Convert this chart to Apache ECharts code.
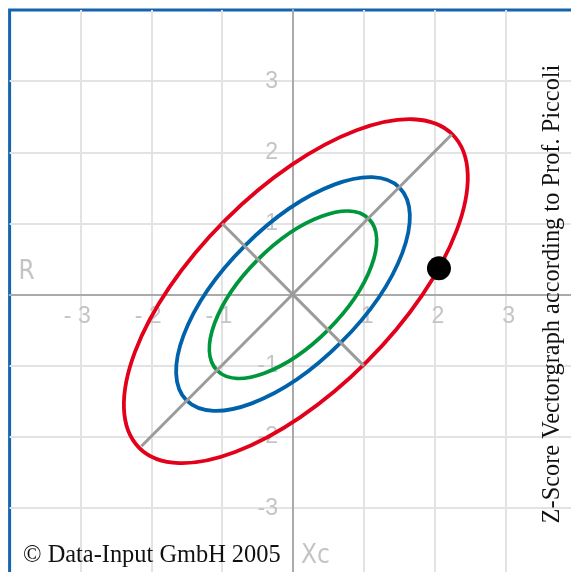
<!DOCTYPE html>
<html>
<head>
<meta charset="utf-8">
<script src="https://cdn.jsdelivr.net/npm/echarts@6/dist/echarts.min.js"></script>
<style>
html,body{margin:0;padding:0;background:#ffffff;}
#chart{width:571px;height:572px;}
</style>
</head>
<body>
<div id="chart"></div>
<script>
// ---- data ----
const xTickValues = [-3, -2, -1, 1, 2, 3];
const xTickLabels = ['- 3 ', '- 2 ', '- 1 ', ' 1', ' 2', ' 3'];
const yTickValues = [-3, -2, -1, 1, 2, 3];
const yTickLabels = ['-3', '-2', '-1', '1', '2', '3'];
const xAxisName = 'R';
const yAxisName = 'Xc';
const titleText = 'Z-Score Vectorgraph according to Prof. Piccoli';
const copyrightText = '\u00A9 Data-Input GmbH 2005';

// tolerance ellipses (50 %, 75 %, 95 %), tilted 45 deg
const ellipseLevels = ['50%', '75%', '95%'];
const ellipseCenterX = [0, 0, 0.04];
const ellipseCenterY = [0, 0.01, 0.05];
const ellipseSemiMajor = [1.51, 2.12, 3.12];
const ellipseSemiMinor = [0.70, 0.96, 1.41];
const ellipseTiltDeg = [45, 45, 45];

// principal axes of the outer ellipse
const majorAxisLine = [[-2.14, -2.13], [2.24, 2.25]];
const minorAxisLine = [[-1, 1], [1, -1]];

// measured vector point
const measuredPoint = [[2.06, 0.37]];

// ---- styles ----
const ellipseColors = ['#00963c', '#0062aa', '#e2001a'];
const labelGray = '#c4c4c4';

const ellipseData = ellipseLevels.map((n, i) => ({
  name: n,
  value: [ellipseCenterX[i], ellipseCenterY[i], ellipseSemiMajor[i], ellipseSemiMinor[i], ellipseTiltDeg[i]]
}));

const W = 571, H = 572;
const gridLeft = 9.6, gridTop = 10, gridRight = -5.4, gridBottom = -7.4;
const plotW = W - gridLeft - gridRight, plotH = H - gridTop - gridBottom;
// shift the axes so they cross at the origin (the middle of the plot)
const xAxisOffset = -plotH / 2;
const yAxisOffset = -plotW / 2;

const chart = echarts.init(document.getElementById('chart'), null, {renderer: 'canvas'});

chart.setOption({
  animation: false,
  backgroundColor: '#ffffff',
  grid: {
    left: gridLeft, top: gridTop, right: gridRight, bottom: gridBottom,
    show: true, borderColor: '#1565ae', borderWidth: 3,
    backgroundColor: 'transparent', containLabel: false, outerBoundsMode: 'none'
  },
  xAxis: {
    type: 'value', min: -4, max: 4, interval: 1,
    position: 'bottom', offset: xAxisOffset,
    name: xAxisName, nameLocation: 'start', nameGap: -9,
    nameTextStyle: {
      color: labelGray, fontSize: 26, fontFamily: '"Liberation Sans Narrow", "DejaVu Sans Condensed", sans-serif',
      align: 'left', verticalAlign: 'bottom', padding: [0, 0, 9, 0]
    },
    axisLine: {onZero: false, lineStyle: {color: '#aaaaaa', width: 2}},
    axisTick: {show: false},
    splitLine: {show: true, showMinLine: false, showMaxLine: false, lineStyle: {color: '#e3e3e3', width: 2}},
    axisLabel: {
      margin: 10, color: labelGray, fontSize: 23, fontFamily: '"Liberation Sans", Arial, sans-serif',
      showMinLabel: false, showMaxLabel: false, hideOverlap: false,
      formatter: v => { const i = xTickValues.indexOf(v); return i < 0 ? '' : xTickLabels[i]; }
    }
  },
  yAxis: {
    type: 'value', min: -4, max: 4, interval: 1,
    position: 'left', offset: yAxisOffset,
    name: yAxisName, nameLocation: 'start', nameGap: -10.6,
    nameTextStyle: {
      color: labelGray, fontSize: 26, fontFamily: '"Liberation Sans Narrow", "DejaVu Sans Condensed", sans-serif',
      align: 'left', verticalAlign: 'bottom', padding: [0, 0, 0, 8]
    },
    axisLine: {onZero: false, lineStyle: {color: '#aaaaaa', width: 2}},
    axisTick: {show: false},
    splitLine: {show: true, showMinLine: false, showMaxLine: false, lineStyle: {color: '#e3e3e3', width: 2}},
    axisLabel: {
      margin: 15, color: labelGray, fontSize: 23, fontFamily: '"Liberation Sans", Arial, sans-serif',
      showMinLabel: false, showMaxLabel: false, hideOverlap: false,
      formatter: v => { const i = yTickValues.indexOf(v); return i < 0 ? '' : yTickLabels[i]; }
    }
  },
  series: [
    {
      type: 'custom',
      name: 'Tolerance ellipses',
      coordinateSystem: 'cartesian2d',
      z: 2,
      encode: {x: 0, y: 1},
      data: ellipseData,
      renderItem: function (params, api) {
        const c = api.coord([api.value(0), api.value(1)]);
        const u = api.size([1, 1]);
        const unit = (u[0] + u[1]) / 2;
        return {
          type: 'ellipse',
          x: c[0], y: c[1],
          rotation: api.value(4) * Math.PI / 180,
          shape: {cx: 0, cy: 0, rx: api.value(2) * unit, ry: api.value(3) * unit},
          style: {fill: 'none', stroke: ellipseColors[params.dataIndex], lineWidth: 3.8}
        };
      }
    },
    {
      type: 'line', name: 'Major axis', data: majorAxisLine, symbol: 'none', z: 3,
      lineStyle: {color: '#9b9b9b', width: 3}
    },
    {
      type: 'line', name: 'Minor axis', data: minorAxisLine, symbol: 'none', z: 3,
      lineStyle: {color: '#9b9b9b', width: 3}
    },
    {
      type: 'scatter', name: 'Measurement', data: measuredPoint, symbolSize: 24, z: 4,
      itemStyle: {color: '#000000', opacity: 1}
    }
  ],
  graphic: [
    {
      type: 'text', x: 23, y: 555.5, z: 10,
      style: {
        text: copyrightText, fill: '#111111',
        font: '24.4px "Liberation Serif", "Times New Roman", serif',
        textAlign: 'left', textVerticalAlign: 'middle', align: 'left', verticalAlign: 'middle'
      }
    },
    {
      type: 'text', x: 553, y: 294, rotation: Math.PI / 2, z: 10,
      style: {
        text: titleText, fill: '#111111',
        font: '24.4px "Liberation Serif", "Times New Roman", serif',
        textAlign: 'center', textVerticalAlign: 'middle', align: 'center', verticalAlign: 'middle'
      }
    }
  ]
});
</script>
</body>
</html>
